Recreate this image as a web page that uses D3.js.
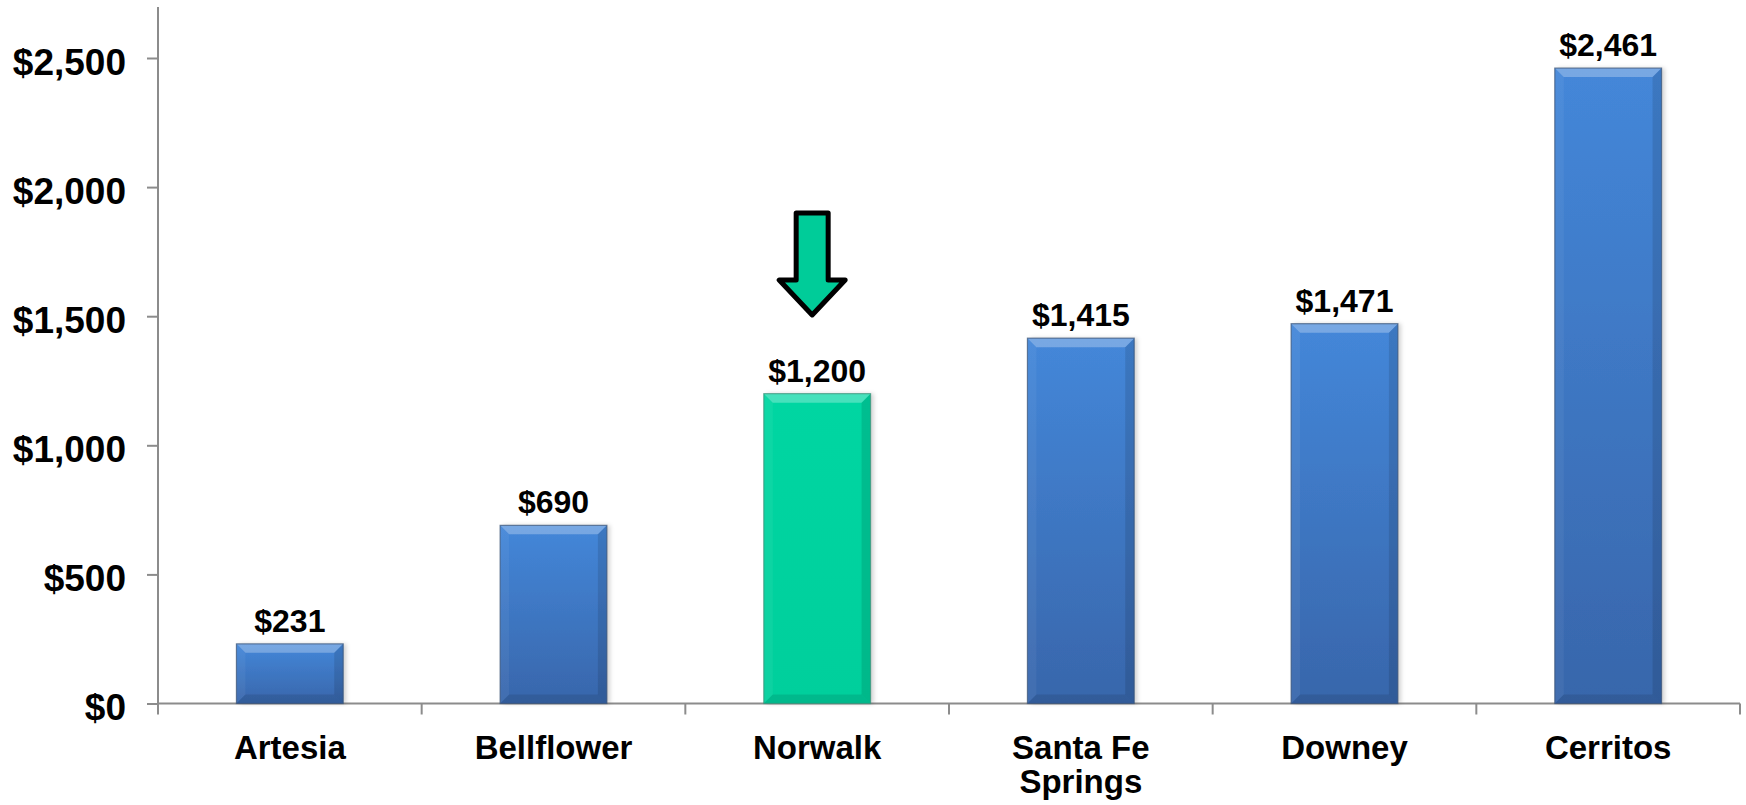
<!DOCTYPE html>
<html>
<head>
<meta charset="utf-8">
<script src="https://cdn.jsdelivr.net/npm/d3@7"></script>
<style>
  body { margin: 0; background: #fff; }
  svg { display: block; font-family: "Liberation Sans", Arial, sans-serif; font-weight: bold; }
</style>
</head>
<body>
<div id="chart"></div>
<script>
// data
const cities = ["Artesia", "Bellflower", "Norwalk", "Santa Fe Springs", "Downey", "Cerritos"];
const values = [231, 690, 1200, 1415, 1471, 2461];
const highlight = "Norwalk";
const yTicks = [0, 500, 1000, 1500, 2000, 2500];
// arrow annotation in value units (top of shaft, start of head, tip)
const arrowVals = [1900, 1640, 1505];

const W = 1746, H = 805;
const m = { left: 158, right: 6, top: 7, bottom: 102 };

const svg = d3.select("#chart").append("svg").attr("width", W).attr("height", H);

var x = d3.scaleBand().domain(cities).range([m.left, W - m.right]).padding(0);
var y = d3.scaleLinear().domain([0, 2500]).range([703.5, 58]);

const defs = svg.append("defs");
function grad(id, c1, c2) {
  const g = defs.append("linearGradient").attr("id", id).attr("x1", 0).attr("y1", 0).attr("x2", 0).attr("y2", 1);
  g.append("stop").attr("offset", "0%").attr("stop-color", c1);
  g.append("stop").attr("offset", "100%").attr("stop-color", c2);
}
grad("gBlue", "#4487d9", "#3866ab");
grad("gGreen", "#05d6a2", "#04cf9c");
const sh = defs.append("filter").attr("id", "shadow").attr("x", "-20%").attr("y", "-5%").attr("width", "140%").attr("height", "110%");
sh.append("feDropShadow").attr("dx", 3).attr("dy", 0).attr("stdDeviation", 2).attr("flood-color", "#000").attr("flood-opacity", 0.18);

// axes
const yAxis = svg.append("g").attr("transform", `translate(${m.left},0)`)
  .call(d3.axisLeft(y).tickValues(yTicks).tickSize(11).tickPadding(21).tickFormat(d => "$" + d3.format(",")(d)));
yAxis.select(".domain").attr("d", `M0,${m.top}V${y(0)}`);
yAxis.selectAll("line, .domain").attr("stroke", "#8c8c8c").attr("stroke-width", 2);
yAxis.selectAll("text").attr("font-size", 37).attr("font-family", "Liberation Sans, Arial, sans-serif")
  .attr("font-weight", "bold").attr("fill", "#000").attr("dy", "0.44em");

const bounds = cities.map(c => x(c)).concat([x(cities[cities.length - 1]) + x.step()]);
svg.append("line").attr("x1", m.left).attr("x2", W - m.right).attr("y1", y(0)).attr("y2", y(0))
  .attr("stroke", "#8c8c8c").attr("stroke-width", 2);
svg.append("g").selectAll("line").data(bounds).enter().append("line")
  .attr("x1", d => d).attr("x2", d => d).attr("y1", y(0)).attr("y2", y(0) + 11)
  .attr("stroke", "#8c8c8c").attr("stroke-width", 2);

// bars
const bw = x.bandwidth() * 0.405;
const bars = svg.append("g").selectAll("g").data(cities).enter().append("g");
bars.each(function(c, i) {
  const g = d3.select(this);
  const x0 = x(c) + (x.bandwidth() - bw) / 2, x1 = x0 + bw;
  const y0 = y(values[i]), y1 = y(0);
  const hi = c === highlight;
  const bev = Math.min(9, (y1 - y0) / 2);
  g.append("rect").attr("x", x0).attr("y", y0).attr("width", bw).attr("height", y1 - y0)
    .attr("fill", hi ? "url(#gGreen)" : "url(#gBlue)").attr("filter", "url(#shadow)");
  const faces = [
    { p: [[x0, y0], [x1, y0], [x1 - bev, y0 + bev], [x0 + bev, y0 + bev]], c: "#ffffff", o: 0.28 },
    { p: [[x0, y0], [x0 + bev, y0 + bev], [x0 + bev, y1 - bev], [x0, y1]], c: "#ffffff", o: 0.05 },
    { p: [[x1, y0], [x1, y1], [x1 - bev, y1 - bev], [x1 - bev, y0 + bev]], c: "#000000", o: 0.11 },
    { p: [[x0, y1], [x0 + bev, y1 - bev], [x1 - bev, y1 - bev], [x1, y1]], c: "#000000", o: 0.1 }
  ];
  g.selectAll("polygon").data(faces).enter().append("polygon")
    .attr("points", d => d.p.join(" ")).attr("fill", d => d.c).attr("fill-opacity", d => d.o);
  g.append("rect").attr("x", x0).attr("y", y0).attr("width", bw).attr("height", y1 - y0)
    .attr("fill", "none").attr("stroke", hi ? "#3d8f78" : "#3a5275").attr("stroke-opacity", 0.7).attr("stroke-width", 1.2);
  g.append("text").attr("x", x(c) + x.bandwidth() / 2).attr("y", y0 - 12)
    .attr("text-anchor", "middle").attr("font-size", 32).attr("fill", "#000")
    .text("$" + d3.format(",")(values[i]));
});

// category labels
const lab = svg.append("g").selectAll("text").data(cities).enter().append("text")
  .attr("x", d => x(d) + x.bandwidth() / 2).attr("y", 759)
  .attr("text-anchor", "middle").attr("font-size", 33).attr("fill", "#000");
lab.each(function(d) {
  const t = d3.select(this);
  const lines = d === "Santa Fe Springs" ? ["Santa Fe", "Springs"] : [d];
  lines.forEach((l, k) => t.append("tspan").attr("x", x(d) + x.bandwidth() / 2).attr("dy", k ? 34 : 0).text(l));
});

// arrow over highlight
const ax = x(highlight) + x.bandwidth() / 2 - 5;
const sw = 16, hw = 33;
const arrow = [[ax - sw, y(arrowVals[0])], [ax + sw, y(arrowVals[0])], [ax + sw, y(arrowVals[1])],
  [ax + hw, y(arrowVals[1])], [ax, y(arrowVals[2])], [ax - hw, y(arrowVals[1])], [ax - sw, y(arrowVals[1])]];
svg.append("polygon").attr("points", arrow.join(" "))
  .attr("fill", "#00cc99").attr("stroke", "#000").attr("stroke-width", 5).attr("stroke-linejoin", "round");
</script>
</body>
</html>
